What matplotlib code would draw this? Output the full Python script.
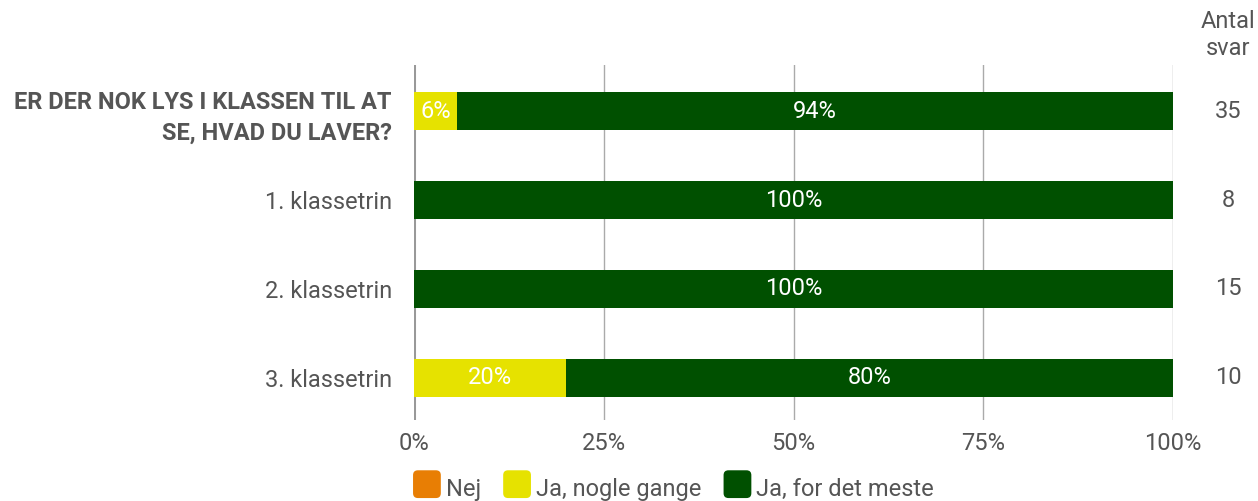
import matplotlib.pyplot as plt
from matplotlib.patches import Patch, FancyBboxPatch
from matplotlib.legend_handler import HandlerPatch

plt.rcParams['font.family'] = ['Roboto', 'DejaVu Sans']

categories = ["ER DER NOK LYS I KLASSEN TIL AT\nSE, HVAD DU LAVER?",
              "1. klassetrin", "2. klassetrin", "3. klassetrin"]
series_names = ["Nej", "Ja, nogle gange", "Ja, for det meste"]
nej = [0, 0, 0, 0]
nogle = [5.7, 0, 0, 20]
meste = [94.3, 100, 100, 80]
antal = [35, 8, 15, 10]
colors = ["#E87E04", "#E6E200", "#005000"]
text_col = "#555555"
fs = 17

fig = plt.figure(figsize=(12.58, 5.01), dpi=100)
ax = fig.add_axes([414/1258, 1-420/501, (1173-414)/1258, (420-65)/501])

y = list(range(len(categories)))
left = [0]*len(y)
for vals, col in zip([nej, nogle, meste], colors):
    bars = ax.barh(y, vals, left=left, height=0.416, color=col, zorder=3)
    for b, v in zip(bars, vals):
        if v > 0:
            ax.text(b.get_x() + b.get_width()/2, b.get_y() + b.get_height()/2,
                    f"{round(v)}%", ha='center', va='center', color='white',
                    fontsize=fs, zorder=4)
    left = [l + v for l, v in zip(left, vals)]

ax.set_xlim(0, 100)
ax.set_ylim(3.472, -0.517)
ax.set_xticks([0, 25, 50, 75, 100])
ax.set_xticklabels(["0%", "25%", "50%", "75%", "100%"])
ax.set_yticks(y)
ax.set_yticklabels(categories)
ax.tick_params(axis='both', length=0, labelsize=fs, labelcolor=text_col)
ax.tick_params(axis='y', pad=16)
ax.tick_params(axis='x', pad=9)
ax.get_yticklabels()[0].set_fontweight('bold')
ax.get_yticklabels()[0].set_linespacing(1.45)
for s in ax.spines.values():
    s.set_visible(False)
for xv in [25, 50, 75, 100]:
    ax.axvline(xv, color='#aaaaaa', lw=1, zorder=1)
ax.axvline(0, color='#999999', lw=2.2, zorder=2)

# counts on the right
xr = (1228-414)/759
for yi, n in zip(y, antal):
    ax.text(xr, yi, str(n), transform=ax.get_yaxis_transform(), ha='center',
            va='center', fontsize=fs, color=text_col, clip_on=False)
ax.text(xr, (35-111)/89, "Antal\nsvar", transform=ax.get_yaxis_transform(),
        ha='center', va='center', fontsize=fs, color=text_col, clip_on=False,
        linespacing=1.2)


class RoundBox(HandlerPatch):
    def create_artists(self, legend, orig, xd, yd, w, h, fontsize, trans):
        s = 20
        p = FancyBboxPatch((xd + (w - s)/2, yd + (h - s)/2 - 1), s, s,
                           boxstyle="round,pad=0,rounding_size=3.5",
                           facecolor=orig.get_facecolor(), edgecolor='none',
                           transform=trans)
        return [p]


handles = [Patch(facecolor=c, edgecolor='none', label=n) for c, n in zip(colors, series_names)]
fig.legend(handles=handles, loc='center left', bbox_to_anchor=(413/1258, 1-489/501),
           ncol=3, frameon=False, fontsize=fs, handlelength=1.18, handleheight=1.0,
           handletextpad=0.2, columnspacing=0.95, labelcolor=text_col, borderaxespad=0,
           borderpad=0, handler_map={Patch: RoundBox()})

fig.savefig("out.png", dpi=100)
